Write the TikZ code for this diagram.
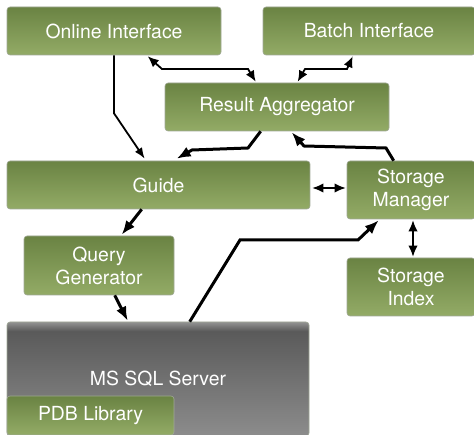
\documentclass[tikz,border=0pt]{standalone}
\usepackage{fontspec}
\setmainfont{TeX Gyre Heros}
\usetikzlibrary{positioning, calc, arrows.meta}

\definecolor{boxtop}{RGB}{106,131,67}
\definecolor{boxbottom}{RGB}{147,171,102}
\definecolor{boxedge}{RGB}{160,168,150}
\definecolor{serverlight}{RGB}{146,146,146}
\definecolor{serverdark}{RGB}{90,90,90}
\definecolor{serverlow}{RGB}{140,140,140}
\pgfdeclareverticalshading{serverfill}{100bp}{color(0bp)=(serverlow); color(25bp)=(serverlow); color(71bp)=(serverdark); color(75bp)=(serverlight); color(100bp)=(serverlight)}

\begin{document}
\begin{tikzpicture}[x=1pt, y=-1pt,
    module/.style={draw=boxedge, line width=0.6pt, rounded corners=3pt,
        top color=boxtop, bottom color=boxbottom, text=white, align=center,
        font=\fontsize{19.4}{23}\selectfont, inner sep=0pt},
    server/.style={draw=boxedge, line width=0.6pt, rounded corners=3pt,
        shading=serverfill, text=white, font=\fontsize{19.4}{23}\selectfont},
    link/.style={line width=1.8pt, {Latex[length=11pt,width=9.5pt]}-{Latex[length=11pt,width=9.5pt]}},
    flow/.style={line width=3pt, -{Latex[length=14pt,width=11pt]}},
    thinflow/.style={line width=1.8pt, -{Latex[length=11pt,width=8.5pt]}}]

    \useasboundingbox (0,0) rectangle (474,435);
    \clip (0,0) rectangle (474,435);

    % Modules
    \node[module, minimum width=214pt, minimum height=48pt] (online) at (114,31) {Online Interface};
    \node[module, minimum width=212pt, minimum height=48pt] (batch) at (369,31) {Batch Interface};
    \node[module, minimum width=224pt, minimum height=48pt] (aggr) at (277,107) {Result Aggregator};
    \node[module, minimum width=303pt, minimum height=48pt] (guide) at (158.5,185) {Guide};
    \node[module, minimum width=128pt, minimum height=58pt] (manager) at (411,190) {Storage\\Manager};
    \node[module, minimum width=150pt, minimum height=59pt] (qgen) at (99,265.5) {Query\\Generator};
    \node[module, minimum width=128pt, minimum height=58pt] (index) at (411,287) {Storage\\Index};

    % Database
    \node[server, minimum width=302pt, minimum height=114pt] (sql) at (158,379) {MS SQL Server};
    \node[module, minimum width=167pt, minimum height=39pt] (pdb) at (90.5,415.5) {PDB Library};

    % Connections
    \draw[thinflow] (online.south) -- ++(0,58) -- ($(guide.north west)+(138,-2)$);
    \draw[link] ($(online.south west)+(141,1)$) -- (162,69) -- (248,69) -- ($(aggr.north west)+(91,-1)$);
    \draw[link] ($(batch.south west)+(90,1)$) -- (347,69) -- (305,69) -- ($(aggr.north west)+(133,-1)$);
    \draw[flow] ($(aggr.south west)+(96,0)$) -- (248,148) -- (192,150) -- ($(guide.north west)+(170,-2)$);
    \draw[flow] ($(manager.north west)+(47,0)$) -- (386,148) -- (304,146) -- ($(aggr.south west)+(127,1)$);
    \draw[link] ($(guide.east)+(2,3)$) -- ($(manager.west)+(-1,-2)$);
    \draw[flow] ($(guide.south west)+(135,0)$) -- ($(qgen.north west)+(98,-1)$);
    \draw[flow] ($(qgen.south west)+(91,0)$) -- ($(sql.north west)+(121,-1)$);
    \draw[flow] ($(sql.north west)+(183,0)$) -- (240,240) -- (358,240) -- ($(manager.south west)+(32,1)$);
    \draw[link] ($(manager.south)+(2,1)$) -- ($(index.north)+(2,-1)$);

\end{tikzpicture}
\end{document}
